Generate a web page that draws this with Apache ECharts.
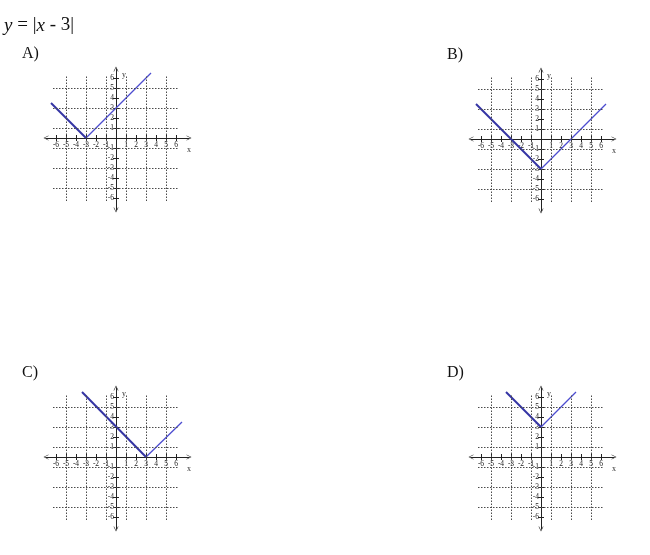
<!DOCTYPE html>
<html>
<head>
<meta charset="utf-8">
<script src="https://cdn.jsdelivr.net/npm/echarts@6/dist/echarts.min.js"></script>
<style>
  html, body { margin: 0; padding: 0; background: #fff; }
  #main { width: 650px; height: 555px; }
</style>
</head>
<body>
<div id="main"></div>
<script>
// values
var tickVals = [-6, -5, -4, -3, -2, -1, 1, 2, 3, 4, 5, 6];
var gridVals = [-5, -3, -1, 1, 3, 5];
var panelNames = ['A)', 'B)', 'C)', 'D)'];

var aLeft = [[-6.5, 3.5], [-3, 0]];
var aRight = [[-3, 0], [3.5, 6.5]];
var bLeft = [[-6.5, 3.5], [0, -3]];
var bRight = [[0, -3], [6.5, 3.5]];
var cLeft = [[-3.4, 6.5], [3, 0]];
var cRight = [[3, 0], [6.6, 3.5]];
var dLeft = [[-3.5, 6.5], [0, 3]];
var dRight = [[0, 3], [3.5, 6.5]];

var branches = [[aLeft, aRight], [bLeft, bRight], [cLeft, cRight], [dLeft, dRight]];

// pixel position of each little graph's origin
var origins = [[116, 138], [541, 139], [116, 457], [541, 457]];
var unit = 10;
var xMin = -7, xMax = 7.3, yMin = -7.2, yMax = 6.9;
var gridLo = -6.3, gridHi = 6.2;

var chart = echarts.init(document.getElementById('main'), null, { renderer: 'canvas' });

var arrow = 'path://M0,10 L5,0 L10,10 L8.8,10 L5,2.4 L1.2,10 Z';
var labelFont = 'Liberation Serif';

var grids = [], xAxes = [], yAxes = [], series = [], titles = [];

titles.push({
    left: 4,
    top: 16,
    padding: 0,
    text: '{i|y} = |{i|x} - 3|',
    textStyle: {
        fontFamily: labelFont,
        fontSize: 19,
        fontWeight: 'normal',
        color: '#111',
        rich: {
            i: { fontFamily: labelFont, fontStyle: 'italic', fontSize: 19, color: '#111' }
        }
    }
});

function tickOnlyAxis(type, i, min, max, position, offset) {
    return {
        type: type,
        gridIndex: i,
        min: min,
        max: max,
        interval: 1,
        position: position,
        offset: offset,
        axisLine: { show: false, onZero: false },
        axisTick: { show: true, customValues: tickVals, length: 3, lineStyle: { color: '#222' } },
        axisLabel: { show: false },
        splitLine: { show: false }
    };
}

origins.forEach(function (o, i) {
    grids.push({
        left: o[0] + xMin * unit,
        top: o[1] - yMax * unit,
        width: (xMax - xMin) * unit,
        height: (yMax - yMin) * unit,
        outerBoundsMode: 'none'
    });

    titles.push({
        left: o[0] - 94,
        top: o[1] - 92,
        padding: 0,
        text: panelNames[i],
        textStyle: { fontFamily: labelFont, fontSize: 16, fontWeight: 'normal', color: '#111' }
    });

    // axes drawn through the origin by shifting them inward
    xAxes.push({
        type: 'value',
        gridIndex: i,
        min: xMin,
        max: xMax,
        interval: 1,
        position: 'bottom',
        offset: yMin * unit,
        name: 'x',
        nameLocation: 'end',
        nameGap: -2,
        nameTextStyle: {
            fontFamily: labelFont, fontSize: 8, color: '#333',
            verticalAlign: 'top', padding: [8, 0, 0, 0]
        },
        axisLine: {
            onZero: false,
            symbol: [arrow, arrow],
            symbolSize: [7, 5],
            lineStyle: { color: '#222', width: 1 }
        },
        axisTick: { show: true, customValues: tickVals, length: 3, lineStyle: { color: '#222' } },
        axisLabel: {
            customValues: tickVals,
            margin: 3,
            fontFamily: labelFont,
            fontSize: 7.5,
            color: '#222'
        },
        splitLine: { show: false }
    });
    // second half of each tick, above the x axis
    xAxes.push(tickOnlyAxis('value', i, xMin, xMax, 'top', -yMax * unit));

    yAxes.push({
        type: 'value',
        gridIndex: i,
        min: yMin,
        max: yMax,
        interval: 1,
        position: 'left',
        offset: xMin * unit,
        name: 'y',
        nameLocation: 'end',
        nameGap: -10,
        nameTextStyle: {
            fontFamily: labelFont, fontSize: 8, color: '#333',
            align: 'left', padding: [0, 0, 0, 6]
        },
        axisLine: {
            onZero: false,
            symbol: [arrow, arrow],
            symbolSize: [7, 5],
            lineStyle: { color: '#222', width: 1 }
        },
        axisTick: { show: true, customValues: tickVals, length: 3, lineStyle: { color: '#222' } },
        axisLabel: {
            customValues: tickVals,
            margin: 2,
            fontFamily: labelFont,
            fontSize: 7.5,
            color: '#222'
        },
        splitLine: { show: false }
    });
    // second half of each tick, right of the y axis
    yAxes.push(tickOnlyAxis('value', i, yMin, yMax, 'right', -xMax * unit));

    var marks = [];
    gridVals.forEach(function (v) {
        marks.push([{ coord: [v, gridLo] }, { coord: [v, gridHi] }]);
        marks.push([{ coord: [gridLo, v] }, { coord: [gridHi, v] }]);
    });

    series.push({
        type: 'line',
        xAxisIndex: 2 * i,
        yAxisIndex: 2 * i,
        data: branches[i][0],
        showSymbol: false,
        silent: true,
        z: 3,
        lineStyle: { color: '#3434a4', width: 2 },
        markLine: {
            silent: true,
            symbol: 'none',
            label: { show: false },
            animation: false,
            lineStyle: { color: '#4a4a4a', width: 1, type: [1.5, 1.5] },
            data: marks
        }
    });
    series.push({
        type: 'line',
        xAxisIndex: 2 * i,
        yAxisIndex: 2 * i,
        data: branches[i][1],
        showSymbol: false,
        silent: true,
        z: 3,
        lineStyle: { color: '#4c4cd0', width: 1.3 }
    });
});

chart.setOption({
    animation: false,
    backgroundColor: '#fff',
    title: titles,
    grid: grids,
    xAxis: xAxes,
    yAxis: yAxes,
    series: series
});
</script>
</body>
</html>
